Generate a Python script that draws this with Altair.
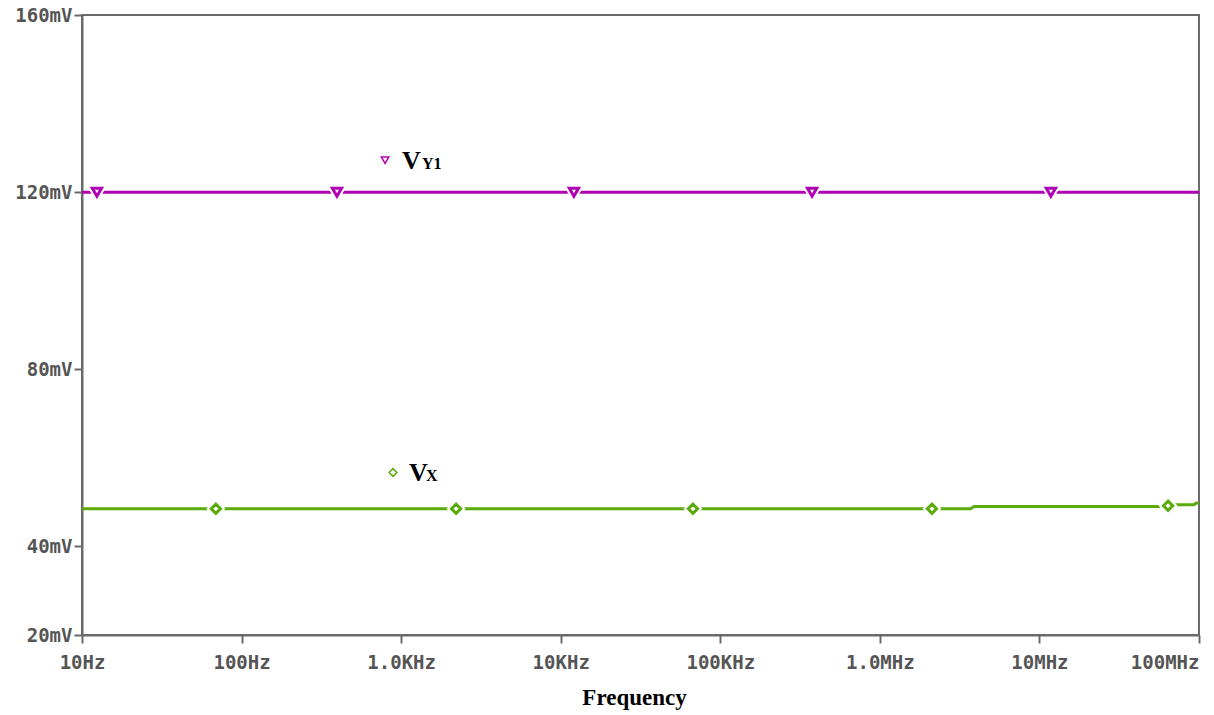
import altair as alt
import pandas as pd

# Axis ticks and labels
x_ticks = [10, 100, 1e3, 1e4, 1e5, 1e6, 1e7, 1e8]
x_labels = ["10Hz", "100Hz", "1.0KHz", "10KHz", "100KHz", "1.0MHz", "10MHz", "100MHz"]
y_ticks = [20, 40, 80, 120, 160]

# V(Y1) trace (mV)
vy1_freq = [10, 1e8]
vy1_mv = [120, 120]
vy1_marker_freq = [12.4, 396, 12.1e3, 376e3, 11.8e6]
vy1_marker_mv = [120, 120, 120, 120, 120]

# V(X) trace (mV)
vx_freq = [10, 3.7e6, 3.9e6, 60e6, 66e6, 72e6, 93e6, 96e6, 1e8]
vx_mv = [48.5, 48.5, 49.0, 49.0, 49.2, 49.4, 49.4, 49.8, 49.8]
vx_marker_freq = [69, 2.21e3, 67.4e3, 2.12e6, 64e6]
vx_marker_mv = [48.5, 48.5, 48.5, 48.5, 49.2]

# Trace legend anchors
legend_names = ["Y1", "X"]
legend_freq = [793, 889]
legend_mv = [127.2, 56.7]

PURPLE = "#B000B4"
GREEN = "#5AAA0A"

label_expr = " : ".join(
    f"abs(datum.value - {v}) < {v * 0.01} ? '{l}'" for v, l in zip(x_ticks, x_labels)
) + " : ''"
align_expr = f"datum.value >= {x_ticks[-1] * 0.99} ? 'right' : 'center'"

x_scale = alt.Scale(type="log", domain=[10, 1e8], nice=False)
y_scale = alt.Scale(domain=[20, 160], nice=False, zero=False)

x_enc = alt.X(
    "f:Q",
    scale=x_scale,
    axis=alt.Axis(
        values=x_ticks,
        labelExpr=label_expr,
        labelAlign=alt.ExprRef(align_expr),
        title="Frequency",
        titleFont="Liberation Serif",
        titleFontSize=23,
        titleFontWeight="bold",
        titleColor="#000000",
        titlePadding=14,
        titleX=552,
        labelPadding=10,
    ),
)
y_enc = alt.Y(
    "v:Q",
    scale=y_scale,
    axis=alt.Axis(values=y_ticks, labelExpr="datum.value + 'mV'", title=None, labelPadding=2),
)

vy1 = pd.DataFrame({"f": vy1_freq, "v": vy1_mv})
vx = pd.DataFrame({"f": vx_freq, "v": vx_mv})
vy1_pts = pd.DataFrame({"f": vy1_marker_freq, "v": vy1_marker_mv})
vx_pts = pd.DataFrame({"f": vx_marker_freq, "v": vx_marker_mv})
leg_y1 = pd.DataFrame({"f": [legend_freq[0]], "v": [legend_mv[0]], "s": [legend_names[0]]})
leg_x = pd.DataFrame({"f": [legend_freq[1]], "v": [legend_mv[1]], "s": [legend_names[1]]})

line_y1 = alt.Chart(vy1).mark_line(color=PURPLE, strokeWidth=3).encode(x=x_enc, y=y_enc)
line_x = alt.Chart(vx).mark_line(color=GREEN, strokeWidth=3).encode(x=x_enc, y=y_enc)


def trace_markers(df, shape, color, size):
    # white halo breaks the trace around each marker, then the outlined marker on top
    halo = alt.Chart(df).mark_point(
        shape=shape, size=size, filled=True, fill="white", stroke="white", strokeWidth=7, opacity=1
    ).encode(x=x_enc, y=y_enc)
    mark = alt.Chart(df).mark_point(
        shape=shape, size=size, filled=True, fill="white", stroke=color, strokeWidth=3, opacity=1
    ).encode(x=x_enc, y=y_enc)
    return [halo, mark]


pts_y1 = trace_markers(vy1_pts, "triangle-down", PURPLE, 85)
pts_x = trace_markers(vx_pts, "diamond", GREEN, 85)

leg_sym_y1 = alt.Chart(leg_y1).mark_point(
    shape="triangle-down", size=55, filled=True, fill="white", stroke=PURPLE, strokeWidth=1.5, opacity=1
).encode(x=x_enc, y=y_enc)
leg_sym_x = alt.Chart(leg_x).mark_point(
    shape="diamond", size=60, filled=True, fill="white", stroke=GREEN, strokeWidth=1.5, opacity=1
).encode(x=x_enc, y=y_enc)

text_style = dict(font="Liberation Serif", fontWeight="bold", color="#000000", align="left", baseline="alphabetic")
leg_v_y1 = alt.Chart(leg_y1).mark_text(text="V", fontSize=26, dx=17, dy=9, **text_style).encode(x=x_enc, y=y_enc)
leg_s_y1 = alt.Chart(leg_y1).mark_text(fontSize=16, dx=37, dy=9, **text_style).encode(x=x_enc, y=y_enc, text="s:N")
leg_v_x = alt.Chart(leg_x).mark_text(text="V", fontSize=26, dx=16, dy=9, **text_style).encode(x=x_enc, y=y_enc)
leg_s_x = alt.Chart(leg_x).mark_text(fontSize=16, dx=33, dy=9, **text_style).encode(x=x_enc, y=y_enc, text="s:N")

chart = (
    alt.layer(line_y1, line_x, *pts_y1, *pts_x, leg_sym_y1, leg_sym_x, leg_v_y1, leg_s_y1, leg_v_x, leg_s_x)
    .properties(
        width=1117,
        height=620,
        autosize=alt.AutoSizeParams(type="none"),
        padding={"left": 82, "top": 15, "right": 15, "bottom": 80},
        background="white",
    )
    .configure_view(stroke="#6a6a6a", strokeWidth=2)
    .configure_axis(
        grid=False,
        domainColor="#6a6a6a",
        domainWidth=2,
        tickColor="#6a6a6a",
        tickWidth=2,
        tickSize=8,
        labelFont="DejaVu Sans Mono",
        labelFontWeight="bold",
        labelFontSize=19,
        labelColor="#555555",
    )
)

chart.save("out.html", embed_options={"renderer": "svg", "actions": False})
